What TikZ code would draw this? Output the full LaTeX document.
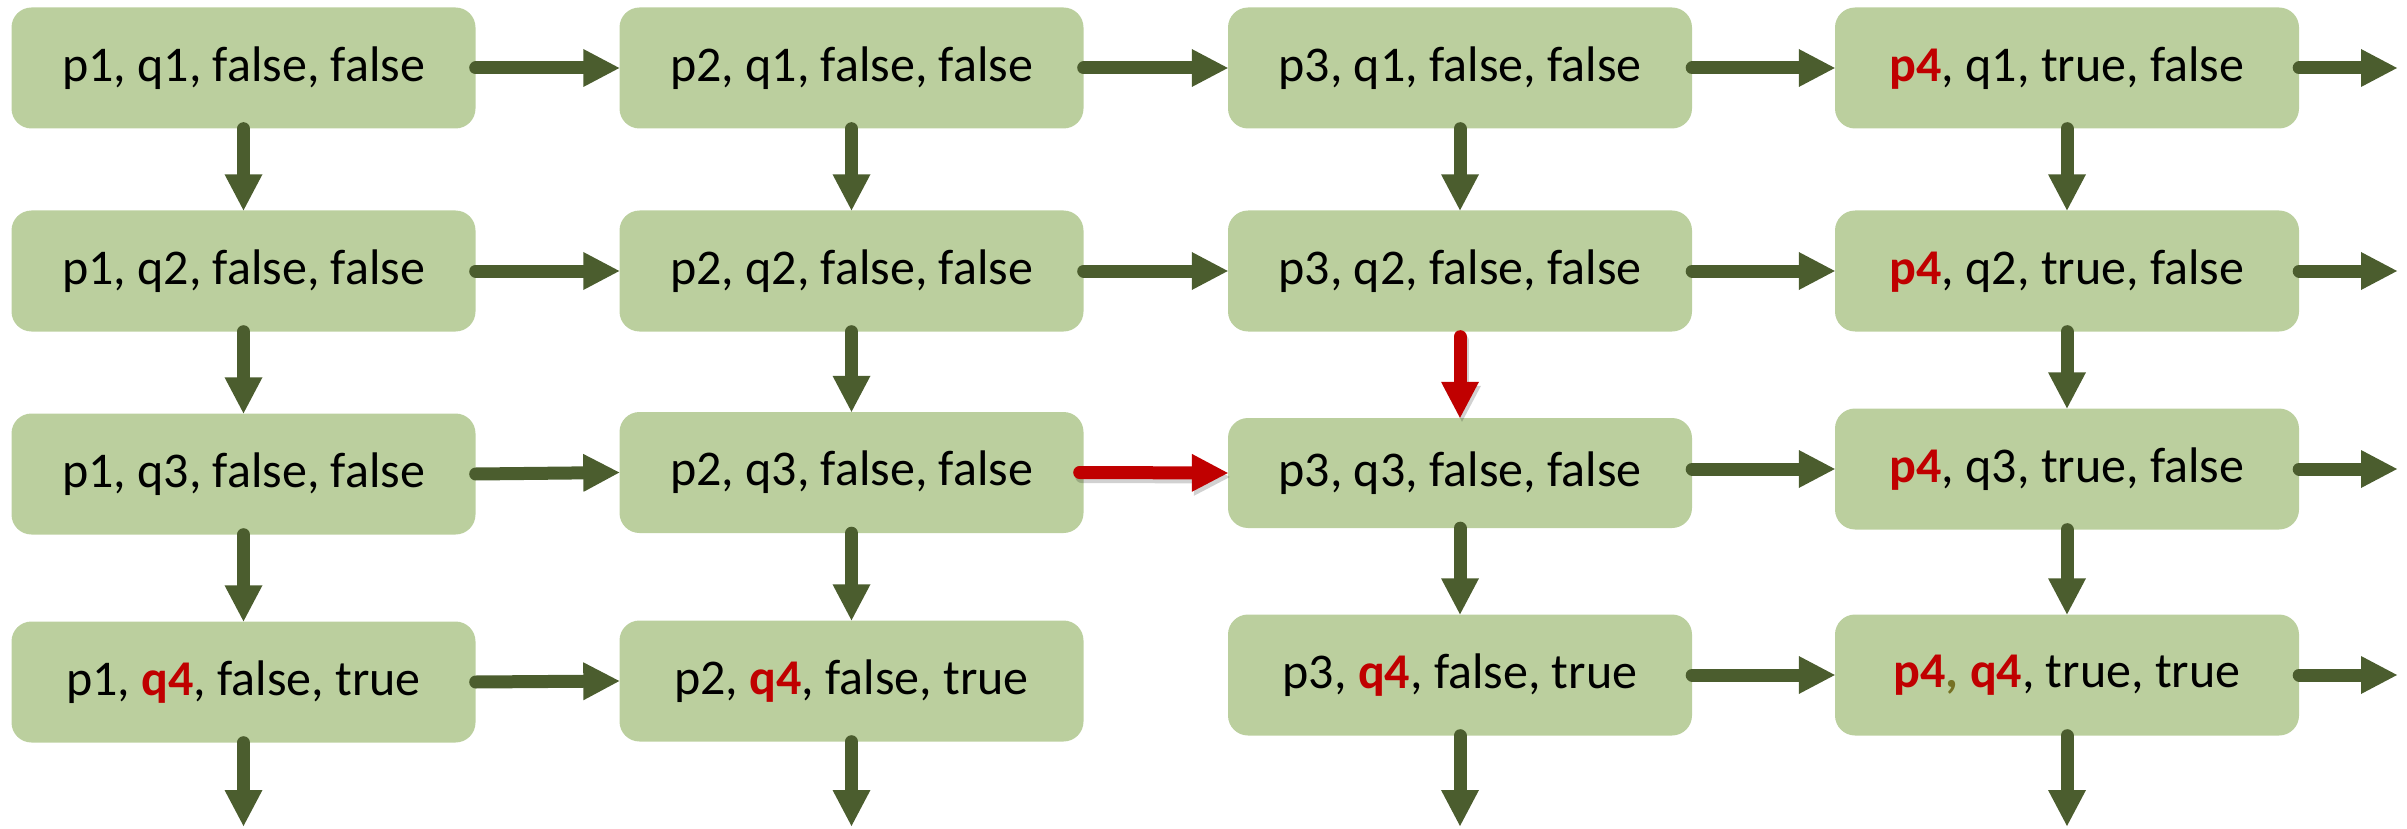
\documentclass[tikz,border=0pt]{standalone}
\usepackage{fontspec}
\setmainfont{Carlito}
\usetikzlibrary{arrows.meta}

\definecolor{boxgreen}{RGB}{187,207,158}
\definecolor{arrowolive}{RGB}{75,93,46}
\definecolor{hotred}{RGB}{192,0,0}
\definecolor{commaolive}{RGB}{118,113,36}

\tikzset{
  state/.style={rectangle, rounded corners=20pt, fill=boxgreen,
    minimum width=464pt, minimum height=121pt, inner sep=0pt,
    font=\fontsize{50}{60}\selectfont, text=black},
  flow/.style={draw=arrowolive, line width=13pt, line cap=round,
    -{Triangle[length=36pt,width=38pt,line width=0pt]}},
  hotflow/.style={flow, draw=hotred},
  hotshadow/.style={flow, draw=black, opacity=0.18},
}
\newcommand{\hot}[1]{\textbf{\color{hotred}#1}}

\begin{document}
\begin{tikzpicture}[x=1pt,y=-1pt]
\useasboundingbox (0,0) rectangle (2407,829);

% states: column = p value, row = q value
\node[state] (s11) at (243.5,68)  {p1, q1, false, false};
\node[state] (s21) at (851.5,68)  {p2, q1, false, false};
\node[state] (s31) at (1460,68)   {p3, q1, false, false};
\node[state] (s41) at (2067,68)   {\hot{p4}, q1, true, false};

\node[state] (s12) at (243.5,271) {p1, q2, false, false};
\node[state] (s22) at (851.5,271) {p2, q2, false, false};
\node[state] (s32) at (1460,271)  {p3, q2, false, false};
\node[state] (s42) at (2067,271)  {\hot{p4}, q2, true, false};

\node[state] (s13) at (243.5,474) {p1, q3, false, false};
\node[state] (s23) at (851.5,472.5) {p2, q3, false, false};
\node[state, minimum height=110pt] (s33) at (1460,473) {p3, q3, false, false};
\node[state] (s43) at (2067,469)  {\hot{p4}, q3, true, false};

\node[state] (s14) at (243.5,682) {p1, \hot{q4}, false, true};
\node[state] (s24) at (851.5,681) {p2, \hot{q4}, false, true};
\node[state] (s34) at (1460,675)  {p3, \hot{q4}, false, true};
\node[state] (s44) at (2067,675)  {\hot{p4}{\bfseries\color{commaolive},} \hot{q4}, true, true};

% free ends of the outgoing arrows
\coordinate (right) at (2397,0);
\coordinate (bottom) at (0,826);

% horizontal steps
\draw[flow] (s11.east) -- (s21.west);
\draw[flow] (s21.east) -- (s31.west);
\draw[flow] (s31.east) -- (s41.west);
\draw[flow] (s41.east) -- (s41.east -| right);

\draw[flow] (s12.east) -- (s22.west);
\draw[flow] (s22.east) -- (s32.west);
\draw[flow] (s32.east) -- (s42.west);
\draw[flow] (s42.east) -- (s42.east -| right);

\draw[flow] (s13.east) -- (s23.west);
\draw[flow] (s33.east |- s43.west) -- (s43.west);
\draw[flow] (s43.east) -- (s43.east -| right);

\draw[flow] (s14.east) -- (s24.west);
\draw[flow] (s34.east) -- (s44.west);
\draw[flow] (s44.east) -- (s44.east -| right);

% vertical steps
\draw[flow] (s11.south) -- (s12.north);
\draw[flow] (s21.south) -- (s22.north);
\draw[flow] (s31.south) -- (s32.north);
\draw[flow] (s41.south) -- (s42.north);

\draw[flow] (s12.south) -- (s13.north);
\draw[flow] (s22.south) -- (s23.north);
\draw[flow] (s42.south) -- (s43.north);

\draw[flow] (s13.south) -- (s14.north);
\draw[flow] (s23.south) -- (s24.north);
\draw[flow] (s33.south) -- (s34.north);
\draw[flow] (s43.south) -- (s44.north);

\draw[flow] (s14.south) -- (s14.south |- bottom);
\draw[flow] (s24.south) -- (s24.south |- bottom);
\draw[flow] (s34.south) -- (s34.south |- bottom);
\draw[flow] (s44.south) -- (s44.south |- bottom);

% highlighted path into p3, q3 with its soft shadow
\begin{scope}[transform canvas={shift={(2pt,-4pt)}}]
  \draw[hotshadow] ([xshift=-4pt]s23.east) -- (s33.west);
  \draw[hotshadow] ([yshift=-5pt]s32.south) -- (s33.north);
\end{scope}
\draw[hotflow] ([xshift=-4pt]s23.east) -- (s33.west);
\draw[hotflow] ([yshift=-5pt]s32.south) -- (s33.north);
\end{tikzpicture}
\end{document}
